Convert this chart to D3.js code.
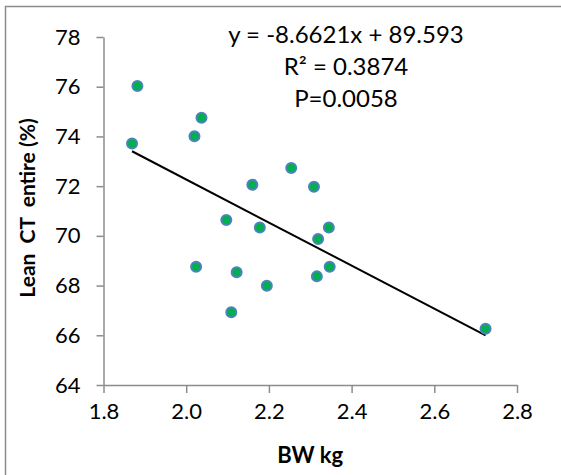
<!DOCTYPE html>
<html>
<head>
<meta charset="utf-8">
<script src="https://cdn.jsdelivr.net/npm/d3@7"></script>
<style>
  body { margin: 0; background: #fff; }
  svg { display: block; font-family: Lato, "Open Sans", sans-serif; }
</style>
</head>
<body>
<div id="chart"></div>
<script>
// body weight (kg) vs lean CT entire (%)
const bw = [1.882, 2.037, 2.020, 1.869, 2.254, 2.160, 2.097, 2.178, 2.024, 2.122,
            2.195, 2.109, 2.309, 2.345, 2.319, 2.347, 2.316, 2.724];
const lean = [76.03, 74.75, 74.01, 73.72, 72.73, 72.06, 70.64, 70.34, 68.76, 68.54,
              67.99, 66.93, 71.98, 70.34, 69.87, 68.76, 68.37, 66.26];
const xTicks = [1.8, 2.0, 2.2, 2.4, 2.6, 2.8];
const yTicks = [64, 66, 68, 70, 72, 74, 76, 78];
const slope = -8.6621, intercept = 89.593;
const statLines = ['y = -8.6621x + 89.593', 'R² = 0.3874', 'P=0.0058'];

const W = 561, H = 475;
const margin = { top: 37, right: 44, bottom: 90, left: 103.5 };
const width = W - margin.left - margin.right;
const height = H - margin.top - margin.bottom;

const svg = d3.select('#chart').append('svg')
    .attr('width', W)
    .attr('height', H);

// outer chart border (only left/top visible in crop)
svg.append('rect')
    .attr('x', 5.5).attr('y', 6.5)
    .attr('width', W + 10).attr('height', H + 10)
    .attr('fill', 'none')
    .attr('stroke', '#8c8c8c')
    .attr('stroke-width', 1.5);

const g = svg.append('g')
    .attr('transform', `translate(${margin.left},${margin.top})`);

const x = d3.scaleLinear().domain([1.8, 2.8]).range([0, width]);
const y = d3.scaleLinear().domain([64, 78]).range([height, 0]);

const xAxis = g.append('g')
    .attr('transform', `translate(0,${height})`)
    .call(d3.axisBottom(x).tickValues(xTicks).tickFormat(d3.format('.1f'))
        .tickSize(8).tickSizeOuter(0).tickPadding(10));
const yAxis = g.append('g')
    .call(d3.axisLeft(y).tickValues(yTicks).tickFormat(d3.format('d'))
        .tickSize(7).tickSizeOuter(0).tickPadding(16));

[xAxis, yAxis].forEach(a => {
    a.selectAll('path, line').attr('stroke', '#8c8c8c').attr('stroke-width', 1.5);
    a.selectAll('text').attr('fill', '#000').style('font-size', '22px')
        .style('font-family', 'Lato, "Open Sans", sans-serif');
});

// trendline over the data range
const xr = d3.extent(bw);
g.append('line')
    .attr('x1', x(xr[0])).attr('y1', y(slope * xr[0] + intercept))
    .attr('x2', x(xr[1])).attr('y2', y(slope * xr[1] + intercept))
    .attr('stroke', '#000')
    .attr('stroke-width', 2);

g.selectAll('circle')
    .data(bw.map((v, i) => [v, lean[i]]))
    .enter()
    .append('circle')
    .attr('cx', d => x(d[0]))
    .attr('cy', d => y(d[1]))
    .attr('r', 5)
    .attr('fill', '#00b050')
    .attr('stroke', '#4f81bd')
    .attr('stroke-width', 2);

// regression stats
svg.append('g').selectAll('text')
    .data(statLines)
    .enter()
    .append('text')
    .attr('x', 346)
    .attr('y', (d, i) => 43 + i * 32)
    .attr('text-anchor', 'middle')
    .style('font-size', '24px')
    .text(d => d);

// axis titles
svg.append('text')
    .attr('x', margin.left + width / 2)
    .attr('y', 463)
    .attr('text-anchor', 'middle')
    .style('font-size', '22px')
    .style('font-weight', 'bold')
    .text('BW kg');

svg.append('text')
    .attr('transform', 'translate(35,208) rotate(-90)')
    .attr('text-anchor', 'middle')
    .style('font-size', '21px')
    .style('font-weight', 'bold')
    .style('white-space', 'pre')
    .text('Lean  CT  entire (%)');
</script>
</body>
</html>
